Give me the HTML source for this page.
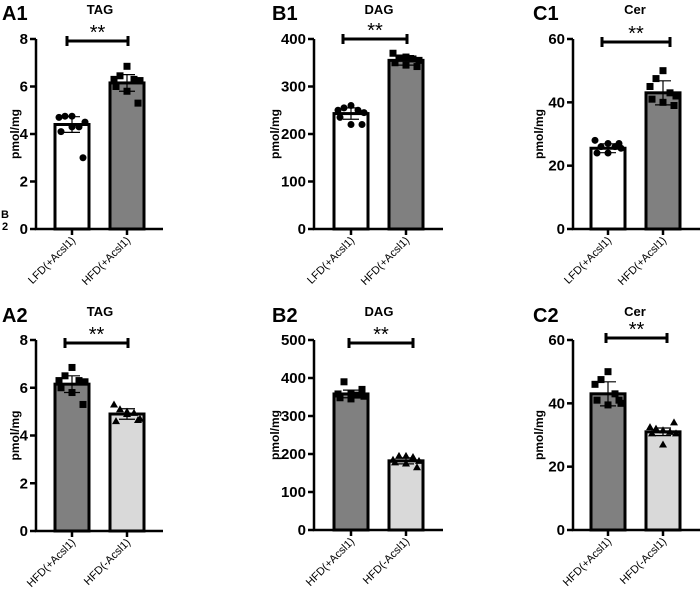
<!DOCTYPE html>
<html><head><meta charset="utf-8"><style>
body{margin:0;background:#fff;}
svg{display:block;font-family:"Liberation Sans",Arial,sans-serif;}
</style></head><body>
<svg id="fig" width="700" height="594" viewBox="0 0 700 594" xmlns="http://www.w3.org/2000/svg">
<text x="1" y="218" font-size="11" font-weight="bold">B</text>
<text x="2" y="230" font-size="11" font-weight="bold">2</text>
</svg>
<script>
// Data arrays
const panelIds = ["A1","B1","C1","A2","B2","C2"];
const panelTitles = ["TAG","DAG","Cer","TAG","DAG","Cer"];
const yMaxes = [8,400,60,8,500,60];
const yTicksA1 = [0,2,4,6,8];
const yTicksB1 = [0,100,200,300,400];
const yTicksC1 = [0,20,40,60];
const yTicksA2 = [0,2,4,6,8];
const yTicksB2 = [0,100,200,300,400,500];
const yTicksC2 = [0,20,40,60];
const catsRow1 = ["LFD(+Acsl1)","HFD(+Acsl1)"];
const catsRow2 = ["HFD(+Acsl1)","HFD(-Acsl1)"];
const meansA1 = [4.4,6.15];
const meansB1 = [243,355];
const meansC1 = [25.5,43];
const meansA2 = [6.15,4.9];
const meansB2 = [358,182];
const meansC2 = [43,31];
const sdA1 = [0.33,0.35];
const sdB1 = [12,10];
const sdC1 = [1.4,3.8];
const sdA2 = [0.35,0.22];
const sdB2 = [10,8];
const sdC2 = [3.8,1.2];
const ptsA1 = [[4.7,4.75,4.75,4.3,4.5,4.1,4.3,3.0],[6.3,6.45,6.85,6.3,6.25,6.0,5.8,5.3]];
const ptsB1 = [[250,255,260,250,245,235,220,220],[370,360,362,358,355,350,345,342]];
const ptsC1 = [[28,26,27,26,25.5,24,24,27],[45,47.5,50,43,42,41,40,39]];
const ptsA2 = [[6.3,6.5,6.85,6.3,6.25,6.0,5.8,5.3],[5.3,5.1,5.0,4.95,4.7,4.6,4.9,4.65]];
const ptsB2 = [[358,390,360,355,352,348,345,370],[185,195,195,192,182,178,175,165]];
const ptsC2 = [[46,47.5,50,43,40,41,39.5,41],[32.5,32,31.5,31,30.5,30.5,27,34]];

const layout = [
 {ax:36, bx:[72,127], y0:229, yt:39, end:163, lab:[2,20], tx:100, ylx:14, sig:[67,128,41], mk:["circle","square"], fill:["#fff","#808080"]},
 {ax:314, bx:[351,406], y0:229, yt:39, end:443, lab:[272,20], tx:379, ylx:274, sig:[343,407,39], mk:["circle","square"], fill:["#fff","#808080"]},
 {ax:573, bx:[608,663], y0:229, yt:39, end:700, lab:[533,20], tx:635, ylx:538, sig:[602,670,42], mk:["circle","square"], fill:["#fff","#808080"]},
 {ax:36, bx:[72,127], y0:531, yt:340, end:163, lab:[2,322], tx:100, ylx:14, sig:[65,128,343], mk:["square","triangle"], fill:["#808080","#d9d9d9"]},
 {ax:314, bx:[351,406], y0:530, yt:340, end:443, lab:[272,322], tx:379, ylx:274, sig:[349,413,343], mk:["square","triangle"], fill:["#808080","#d9d9d9"]},
 {ax:573, bx:[608,663], y0:530, yt:340, end:700, lab:[533,322], tx:635, ylx:538, sig:[606,667,338], mk:["square","triangle"], fill:["#808080","#d9d9d9"]}
];
const ticksAll=[yTicksA1,yTicksB1,yTicksC1,yTicksA2,yTicksB2,yTicksC2];
const meansAll=[meansA1,meansB1,meansC1,meansA2,meansB2,meansC2];
const sdAll=[sdA1,sdB1,sdC1,sdA2,sdB2,sdC2];
const ptsAll=[ptsA1,ptsB1,ptsC1,ptsA2,ptsB2,ptsC2];
const jitter=[-13,-7,0,7,13,-11,0,11];

const svg=document.getElementById('fig');
const NS="http://www.w3.org/2000/svg";
function mk(tag,attrs,parent){const e=document.createElementNS(NS,tag);for(const k in attrs)e.setAttribute(k,attrs[k]);(parent||svg).appendChild(e);return e;}

panelIds.forEach((id,i)=>{
 const L=layout[i];
 const g=mk('g',{});
 
 
 const y=v=>L.y0-(v/yMaxes[i])*(L.y0-L.yt);
 const cats=i<3?catsRow1:catsRow2;
 const lab=mk('text',{x:L.lab[0],y:L.lab[1],'font-size':20,'font-weight':'bold'},g);lab.textContent=id;
 
 
 const t=mk('text',{x:L.tx,y:L.lab[1]-6,'font-size':13,'font-weight':'bold','text-anchor':'middle'},g);t.textContent=panelTitles[i];
 
 
 const yl=mk('text',{x:0,y:0,'font-size':12,'font-weight':'bold','text-anchor':'middle',transform:`translate(${L.ylx+5},${(L.y0+L.yt)/2}) rotate(-90)`},g);yl.textContent='pmol/mg';
 
 
 meansAll[i].forEach((m,j)=>{
  const r=mk('rect',{x:L.bx[j]-17,y:y(m),width:34,height:L.y0-y(m),fill:L.fill[j],stroke:'#000','stroke-width':3},g);
  
  
 });
 ptsAll[i].forEach((arr,j)=>{
  arr.forEach((v,k)=>{
   const cx=L.bx[j]+jitter[k], cy=y(v); let p;
   if(L.mk[j]==='circle') p=mk('circle',{cx:cx,cy:cy,r:3.5,fill:'#000'},g);
   else if(L.mk[j]==='square') p=mk('rect',{x:cx-3.5,y:cy-3.5,width:7,height:7,fill:'#000'},g);
   else p=mk('polygon',{points:`${cx},${cy-4} ${cx-4},${cy+3} ${cx+4},${cy+3}`,fill:'#000'},g);
   
   
  });
 });
 meansAll[i].forEach((m,j)=>{
  const s=sdAll[i][j],x=L.bx[j];
  const e=mk('path',{d:`M${x},${y(m-s)}V${y(m+s)}M${x-8},${y(m-s)}H${x+8}M${x-8},${y(m+s)}H${x+8}`,stroke:'#000','stroke-width':1.2,fill:'none'},g);
  
  
 });
 const ax=mk('path',{d:`M${L.ax},${L.yt}V${L.y0}H${L.end}`,stroke:'#000','stroke-width':2.5,fill:'none'},g);
 
 
 ticksAll[i].forEach(v=>{
  mk('line',{x1:L.ax-6,x2:L.ax,y1:y(v),y2:y(v),stroke:'#000','stroke-width':2.5},g);
  const tl=mk('text',{x:L.ax-8,y:y(v)+5,'font-size':15,'font-weight':'bold','text-anchor':'end'},g);tl.textContent=v;
  
  
 });
 cats.forEach((c,j)=>{
  const x=L.bx[j];
  mk('line',{x1:x,x2:x,y1:L.y0,y2:L.y0+6,stroke:'#000','stroke-width':2.5},g);
  const xl=mk('text',{x:0,y:0,'font-size':11,'text-anchor':'end',transform:`translate(${x+4},${L.y0+12}) rotate(-45)`},g);xl.textContent=c;
  
  
 });
 const [s1,s2,sy]=L.sig;
 const sg=mk('path',{d:`M${s1},${sy}H${s2}M${s1},${sy-5}V${sy+5}M${s2},${sy-5}V${sy+5}`,stroke:'#000','stroke-width':3,fill:'none'},g);
 
 
 const st=mk('text',{x:(s1+s2)/2,y:sy-2,'font-size':20,'text-anchor':'middle'},g);st.textContent='**';
 
 
});
</script>
</body></html>
